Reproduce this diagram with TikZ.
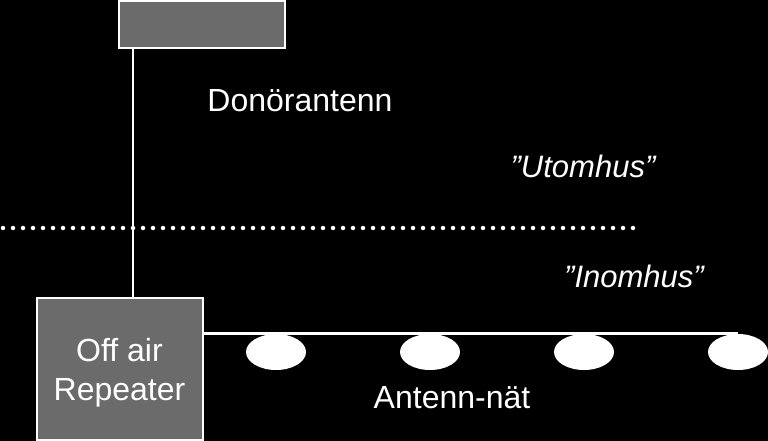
\documentclass[tikz,border=0pt]{standalone}
\usepackage{fontspec}
\setmainfont{Liberation Sans}
\usetikzlibrary{shapes.geometric}
\definecolor{boxgray}{HTML}{6B6B6B}
\begin{document}
\begin{tikzpicture}[x=1pt,y=-1pt,
  unit/.style={draw=white, line width=2pt, fill=boxgray, inner sep=0pt},
  antenna/.style={ellipse, fill=white, minimum width=60pt, minimum height=36pt, inner sep=0pt},
  label/.style={text=white, anchor=base, font=\fontsize{32}{39}\selectfont},
  wire/.style={draw=white, line width=2pt}]
\fill[black] (0,0) rectangle (768,441);
\useasboundingbox (0,0) rectangle (768,441);
\node[unit, minimum width=166pt, minimum height=142pt] (repeater) at (119.5,368.5) {};
\node[unit, minimum width=166pt, minimum height=47pt] (donor) at (202,24.5) {};
\node[label, align=center] (replabel) at (119.5,400) {Off air\\Repeater};
\node[antenna] (ant1) at (276,352) {};
\node[antenna] (ant2) at (430,352) {};
\node[antenna] (ant3) at (584,352) {};
\node[antenna] (ant4) at (738,352) {};
\node[label] (donlabel) at (300,112) {Donörantenn};
\node[label, font=\fontsize{31}{39}\selectfont\itshape] (outdoor) at (583,177) {”Utomhus”};
\node[label, font=\fontsize{31}{39}\selectfont\itshape] (indoor) at (634,287) {”Inomhus”};
\node[label] (netlabel) at (452,408) {Antenn-nät};
\coordinate (feed) at (133,297);
\coordinate (wallW) at (3,228);
\coordinate (wallE) at (635,228);
% cable from donor antenna down to the repeater
\path[wire] (donor.south -| feed) -- (feed);
% indoor antenna net
\path[wire, line width=3pt] (ant4.north -| repeater.east) -- (ant4.north);
% wall between outdoor and indoor
\draw[white, line width=4.5pt, line cap=round, dash pattern=on 0pt off 10pt] (wallW) -- (wallE);
\end{tikzpicture}
\end{document}
